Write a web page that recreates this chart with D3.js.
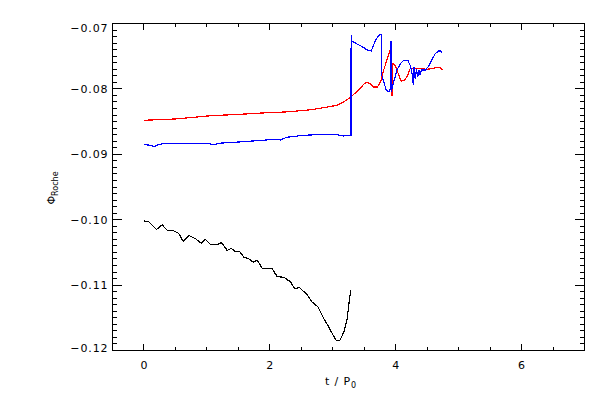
<!DOCTYPE html>
<html><head><meta charset="utf-8">
<script src="https://cdn.jsdelivr.net/npm/d3@7"></script>
<style>body{margin:0;background:#fff}svg{display:block}text{font-family:"DejaVu Sans",sans-serif;fill:#000}</style>
</head><body>
<svg id="c" width="600" height="400"></svg>
<script>
// ---- data ----
const blackT = [0.0,0.076,0.199,0.289,0.378,0.474,0.553,0.623,0.712,0.818,0.909,0.977,1.057,1.163,1.232,1.322,1.386,1.454,1.522,1.586,1.665,1.735,1.799,1.878,2.037,2.117,2.221,2.328,2.392,2.476,2.593,2.673,2.762,2.857,2.937,3.007,3.059,3.111,3.175,3.229,3.270,3.286];
const blackV = [-0.1002,-0.1003,-0.1015,-0.1008,-0.1017,-0.1017,-0.1021,-0.1033,-0.1024,-0.1029,-0.1036,-0.1030,-0.1038,-0.1038,-0.1035,-0.1047,-0.1044,-0.1049,-0.1049,-0.1057,-0.1060,-0.1065,-0.1062,-0.1074,-0.1075,-0.1087,-0.1088,-0.1095,-0.1105,-0.1104,-0.1115,-0.1126,-0.1133,-0.1151,-0.1164,-0.1177,-0.1185,-0.1185,-0.1172,-0.1151,-0.1118,-0.1108];

const redT = [0.0,0.5,1.06,1.5,1.85,2.3,2.64,2.9,3.07,3.17,3.28,3.36,3.44,3.49,3.54,3.59,3.65,3.71,3.76,3.81,3.86,3.91,3.93,3.94,3.95,3.99,4.02,4.06,4.09,4.14,4.19,4.23,4.29,4.39,4.50,4.58,4.66,4.71,4.74];
const redV = [-0.0848,-0.0846,-0.0841,-0.0839,-0.0837,-0.0835,-0.0832,-0.0828,-0.0825,-0.0820,-0.0813,-0.0806,-0.0799,-0.0793,-0.0790,-0.0792,-0.0797,-0.0797,-0.0789,-0.0771,-0.0756,-0.0741,-0.0727,-0.0811,-0.0761,-0.0764,-0.0771,-0.0782,-0.0788,-0.0787,-0.0779,-0.0769,-0.0769,-0.0769,-0.0770,-0.0769,-0.0767,-0.0768,-0.0771];

const blueT = [0.0,0.08,0.16,0.24,0.32,0.69,0.98,1.11,1.21,1.53,1.96,2.01,2.17,2.27,2.53,2.75,3.07,3.17,3.27,3.29,3.292,3.30,3.38,3.46,3.54,3.61,3.64,3.68,3.73,3.77,3.772,3.81,3.85,3.89,3.92,3.925,3.93,3.935,3.94,3.97,4.02,4.08,4.13,4.19,4.23,4.26,4.28,4.29,4.31,4.33,4.35,4.37,4.39,4.41,4.47,4.52,4.57,4.63,4.68,4.72,4.74];
const blueV = [-0.0885,-0.0886,-0.0888,-0.0885,-0.08835,-0.0883,-0.0883,-0.0885,-0.0883,-0.0881,-0.0878,-0.0877,-0.0878,-0.0874,-0.0871,-0.0870,-0.0870,-0.0872,-0.0871,-0.0871,-0.0717,-0.0727,-0.0731,-0.0735,-0.0740,-0.0742,-0.0735,-0.0726,-0.0718,-0.0717,-0.0777,-0.0789,-0.0802,-0.0804,-0.0800,-0.0727,-0.0805,-0.0730,-0.0800,-0.0789,-0.0771,-0.0761,-0.0756,-0.0756,-0.0764,-0.0776,-0.0794,-0.0766,-0.0785,-0.0770,-0.0782,-0.0772,-0.0779,-0.0771,-0.0771,-0.0766,-0.0756,-0.0746,-0.0742,-0.0742,-0.0746];

const xMajorTicks = [0,2,4,6];
const xTickLabels = ["0","2","4","6"];
const yMajorTicks = [-0.12,-0.11,-0.10,-0.09,-0.08,-0.07];
const yTickLabels = ["\u22120.12","\u22120.11","\u22120.10","\u22120.09","\u22120.08","\u22120.07"];

// ---- drawing ----
const svg = d3.select("#c");
const x = d3.scaleLinear().domain([-0.5,7]).range([112.5,584.5]);
const y = d3.scaleLinear().domain([-0.12,-0.07]).range([350.5,23.5]);
const x0=x(-0.5), x1=x(7), yT=y(-0.07), yB=y(-0.12);

const g = svg.append("g");
const line = d3.line().x(d=>x(d[0])).y(d=>y(d[1]));
function drawSeries(T,V,color){
  g.append("path").datum(T.map((t,i)=>[t,V[i]]))
   .attr("d",line).attr("fill","none").attr("stroke",color).attr("stroke-width",1.2)
   .attr("shape-rendering","crispEdges");
}
drawSeries(blackT,blackV,"#000");
drawSeries(redT,redV,"#ff0000");
drawSeries(blueT,blueV,"#0000ff");

const ax = svg.append("g").attr("stroke","#000").attr("stroke-width",1).attr("shape-rendering","crispEdges");
ax.append("rect").attr("x",x0).attr("y",yT).attr("width",x1-x0).attr("height",yB-yT).attr("fill","none");

// x ticks (bottom & top, inward)
const xMinor = d3.range(0,7.001,0.5).filter(v=>v>-0.5&&v<7&&!xMajorTicks.includes(v));
xMajorTicks.forEach(v=>{
  ax.append("line").attr("x1",x(v)).attr("x2",x(v)).attr("y1",yB).attr("y2",yB-6.5);
  ax.append("line").attr("x1",x(v)).attr("x2",x(v)).attr("y1",yT).attr("y2",yT+6.5);
});
xMinor.forEach(v=>{
  ax.append("line").attr("x1",x(v)).attr("x2",x(v)).attr("y1",yB).attr("y2",yB-3.3);
  ax.append("line").attr("x1",x(v)).attr("x2",x(v)).attr("y1",yT).attr("y2",yT+3.3);
});
// y ticks (left & right, inward)
const yMinor = d3.range(-120,-69,1).map(v=>v/1000).filter(v=>Math.round(v*1000)%10!==0);
yMajorTicks.forEach(v=>{
  ax.append("line").attr("y1",y(v)).attr("y2",y(v)).attr("x1",x0).attr("x2",x0+9.4);
  ax.append("line").attr("y1",y(v)).attr("y2",y(v)).attr("x1",x1).attr("x2",x1-9.4);
});
yMinor.forEach(v=>{
  ax.append("line").attr("y1",y(v)).attr("y2",y(v)).attr("x1",x0).attr("x2",x0+4.7);
  ax.append("line").attr("y1",y(v)).attr("y2",y(v)).attr("x1",x1).attr("x2",x1-4.7);
});

const fs = 11, ls = 0.9;
xMajorTicks.forEach((v,i)=>{
  svg.append("text").attr("x",x(v)).attr("y",369).attr("text-anchor","middle")
    .attr("font-size",fs).text(xTickLabels[i]);
});
yMajorTicks.forEach((v,i)=>{
  let dy = 0;
  if (i===yMajorTicks.length-1) dy = 4.5;
  if (i===0) dy = -2.5;
  svg.append("text").attr("x",x0-4).attr("y",y(v)+4+dy).attr("text-anchor","end")
    .attr("font-size",fs).attr("letter-spacing",ls).text(yTickLabels[i]);
});

// axis titles
const xt = svg.append("text").attr("x",341).attr("y",385).attr("text-anchor","middle").attr("font-size",fs).attr("letter-spacing",ls);
xt.append("tspan").text("t / P");
xt.append("tspan").attr("font-size",8).attr("dy",3).text("0");

const yt = svg.append("text").attr("transform","translate(55,188) rotate(-90)").attr("text-anchor","middle").attr("font-size",fs);
yt.append("tspan").text("\u03A6");
yt.append("tspan").attr("font-size",8).attr("dy",3).text("Roche");
</script>
</body></html>
